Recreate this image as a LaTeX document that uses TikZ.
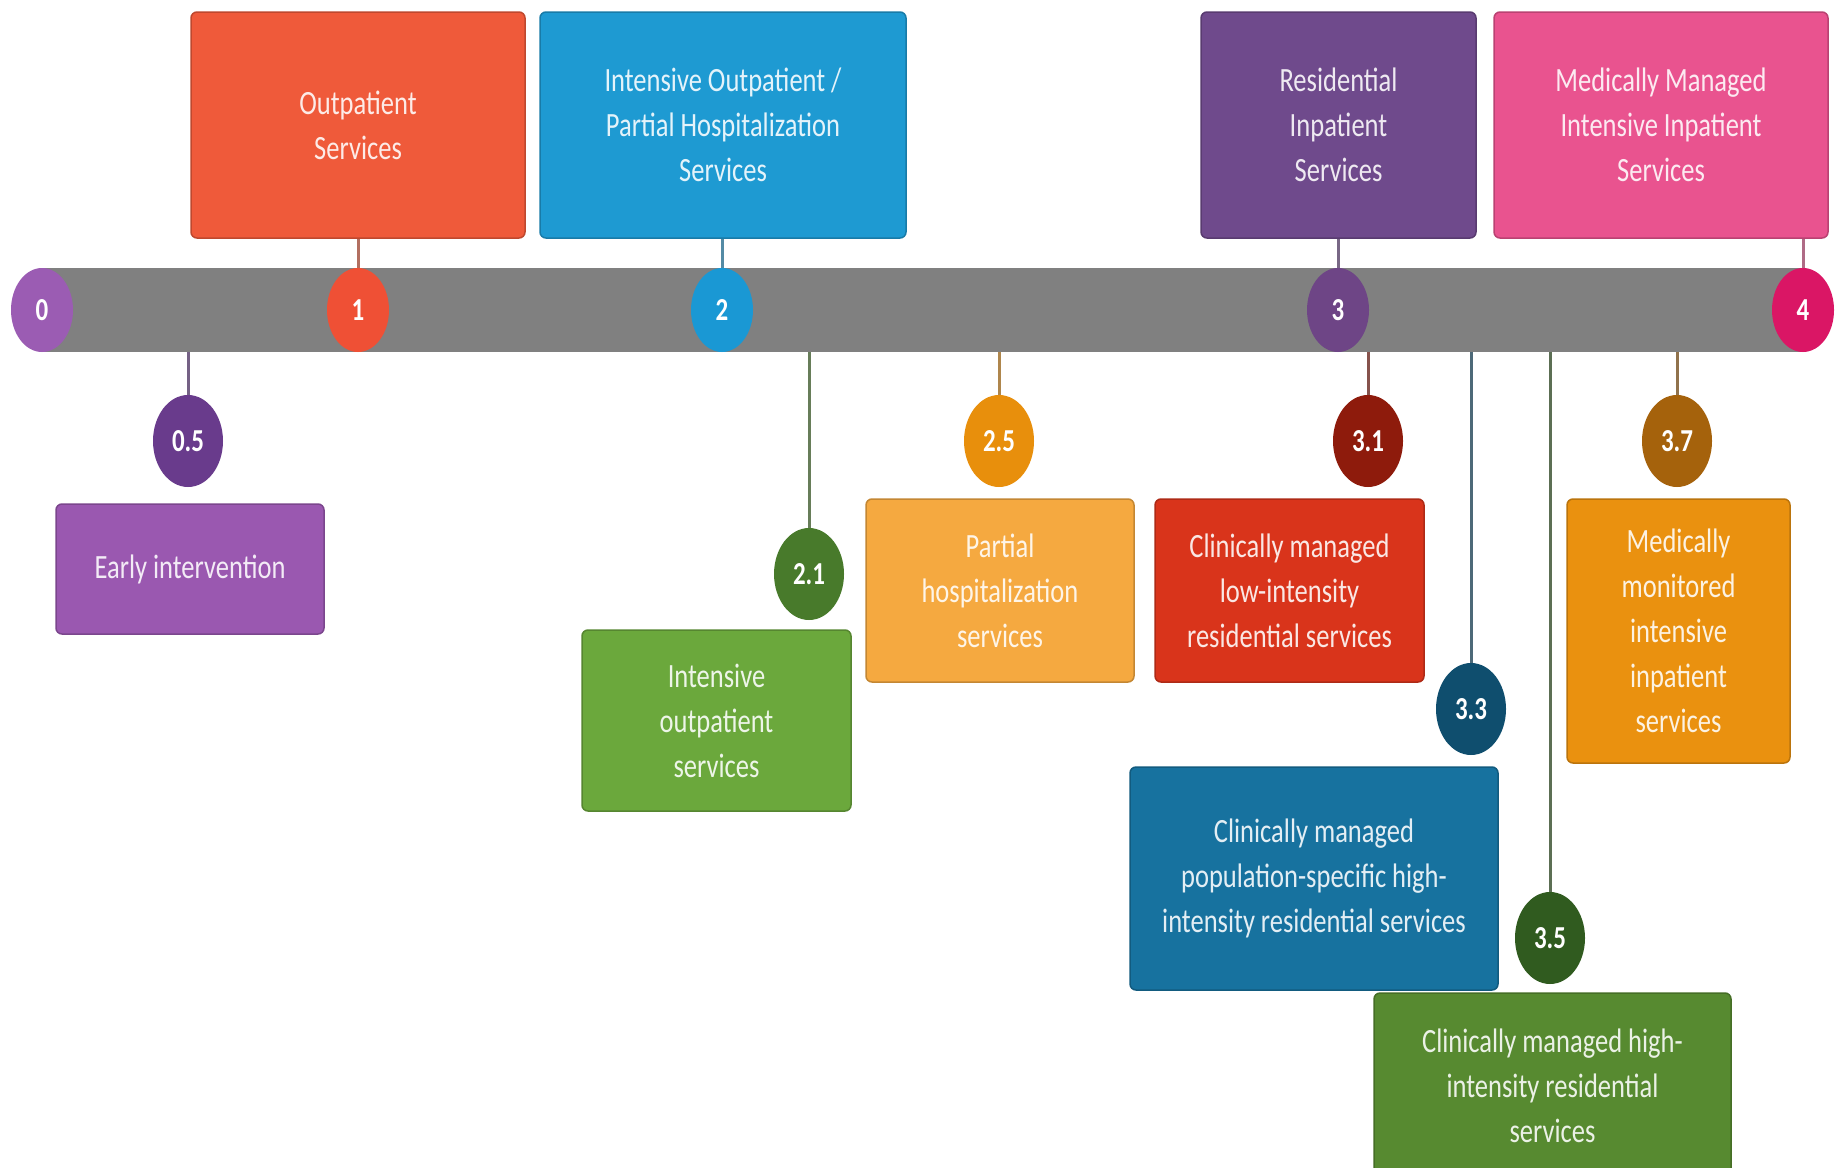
\documentclass[tikz,border=0pt]{standalone}
\usepackage{fontspec}
\setmainfont[FakeStretch=0.78]{Carlito}
\usetikzlibrary{shapes.geometric}
\definecolor{cOP}{HTML}{EF5A3A}
\definecolor{cIOP}{HTML}{1E9AD2}
\definecolor{cRES}{HTML}{6F4A8C}
\definecolor{cMM}{HTML}{E9538F}
\definecolor{cZero}{HTML}{9B5CB3}
\definecolor{cOne}{HTML}{EF5035}
\definecolor{cTwo}{HTML}{1A98D4}
\definecolor{cThree}{HTML}{6E4586}
\definecolor{cFour}{HTML}{DA1665}
\definecolor{cHalf}{HTML}{693B8C}
\definecolor{cEI}{HTML}{9A58B0}
\definecolor{cTwoOne}{HTML}{487A2B}
\definecolor{cIO}{HTML}{6BA83C}
\definecolor{cTwoFive}{HTML}{E88F0C}
\definecolor{cPH}{HTML}{F5A940}
\definecolor{cThreeOne}{HTML}{8E1B0C}
\definecolor{cCL}{HTML}{D9341B}
\definecolor{cThreeThree}{HTML}{0F4E6E}
\definecolor{cCP}{HTML}{17729F}
\definecolor{cThreeFive}{HTML}{305B1F}
\definecolor{cCH}{HTML}{578A30}
\definecolor{cThreeSeven}{HTML}{A5620C}
\definecolor{cMMON}{HTML}{EA910F}
\definecolor{barGray}{HTML}{808080}
\tikzset{
  lbox/.style={rectangle, rounded corners=6pt, inner sep=0pt, align=center,
    fill=#1, draw=#1!80!black, line width=1.5pt, text=#1!12!white,
    font=\fontsize{34}{45}\selectfont},
  dot/.style={ellipse, inner sep=0pt, fill=#1, text=white,
    font=\bfseries\fontsize{32}{36}\selectfont},
  bardot/.style={dot=#1, minimum width=62pt, minimum height=84pt},
  lowdot/.style={dot=#1, minimum width=70pt, minimum height=92pt},
  link/.style={line width=3pt, draw=#1!45!gray}
}
\begin{document}
\begin{tikzpicture}[x=1pt,y=-1pt]
\useasboundingbox[fill=white] (0,0) rectangle (1841,1167);
\begin{scope}
\clip (0,0) rectangle (1841,1167);
% bar
\node[rectangle, fill=barGray, minimum width=1761pt, minimum height=84pt, inner sep=0pt] (bar) at (922.5,310) {};
% top boxes
\node[lbox=cOP, minimum width=334pt, minimum height=226pt] (op) at (358,125) {Outpatient\\Services};
\node[lbox=cIOP, minimum width=366pt, minimum height=226pt] (iop) at (723,125) {Intensive Outpatient /\\Partial Hospitalization\\Services};
\node[lbox=cRES, minimum width=275pt, minimum height=226pt] (res) at (1338.5,125) {Residential\\Inpatient\\Services};
\node[lbox=cMM, minimum width=334pt, minimum height=226pt] (mm) at (1661,125) {Medically Managed\\Intensive Inpatient\\Services};
% bar dots
\node[bardot=cZero] (c0) at (42,310) {0};
\node[bardot=cOne] (c1) at (358,310) {1};
\node[bardot=cTwo] (c2) at (722,310) {2};
\node[bardot=cThree] (c3) at (1338,310) {3};
\node[bardot=cFour] (c4) at (1803,310) {4};
% top connectors
\draw[link=cOP] (c1.north) -- (c1.north |- op.south);
\draw[link=cIOP] (c2.north) -- (c2.north |- iop.south);
\draw[link=cRES] (c3.north) -- (c3.north |- res.south);
\draw[link=cMM] (c4.north) -- (c4.north |- mm.south);
% lower connectors and dots
\coordinate (h05) at (188,441);
\coordinate (h21) at (809,574);
\coordinate (h25) at (999,441);
\coordinate (h31) at (1368,441);
\coordinate (h33) at (1471,709);
\coordinate (h35) at (1550,938);
\coordinate (h37) at (1677,441);
\draw[link=cHalf] (h05 |- bar.south) -- (h05);
\draw[link=cTwoOne] (h21 |- bar.south) -- (h21);
\draw[link=cTwoFive] (h25 |- bar.south) -- (h25);
\draw[link=cThreeOne] (h31 |- bar.south) -- (h31);
\draw[link=cThreeThree] (h33 |- bar.south) -- (h33);
\draw[link=cThreeFive] (h35 |- bar.south) -- (h35);
\draw[link=cThreeSeven] (h37 |- bar.south) -- (h37);
\node[lowdot=cHalf] (c05) at (h05) {0.5};
\node[lowdot=cTwoOne] (c21) at (h21) {2.1};
\node[lowdot=cTwoFive] (c25) at (h25) {2.5};
\node[lowdot=cThreeOne] (c31) at (h31) {3.1};
\node[lowdot=cThreeThree] (c33) at (h33) {3.3};
\node[lowdot=cThreeFive] (c35) at (h35) {3.5};
\node[lowdot=cThreeSeven] (c37) at (h37) {3.7};
% lower boxes
\node[lbox=cEI, minimum width=268pt, minimum height=130pt] (ei) at (190,569) {Early intervention};
\node[lbox=cIO, minimum width=269pt, minimum height=181pt] (io) at (716.5,720.5) {Intensive\\outpatient\\services};
\node[lbox=cPH, minimum width=268pt, minimum height=183pt] (ph) at (1000,590.5) {Partial\\hospitalization\\services};
\node[lbox=cCL, minimum width=269pt, minimum height=183pt] (cl) at (1289.5,590.5) {Clinically managed\\low-intensity\\residential services};
\node[lbox=cMMON, minimum width=223pt, minimum height=264pt] (mmon) at (1678.5,631) {Medically\\monitored\\intensive\\inpatient\\services};
\node[lbox=cCP, minimum width=368pt, minimum height=223pt] (cp) at (1314,878.5) {Clinically managed\\population-specific high-\\intensity residential services};
\node[lbox=cCH, minimum width=357pt, minimum height=186pt] (ch) at (1552.5,1086) {Clinically managed high-\\intensity residential\\services};
\end{scope}
\end{tikzpicture}
\end{document}
